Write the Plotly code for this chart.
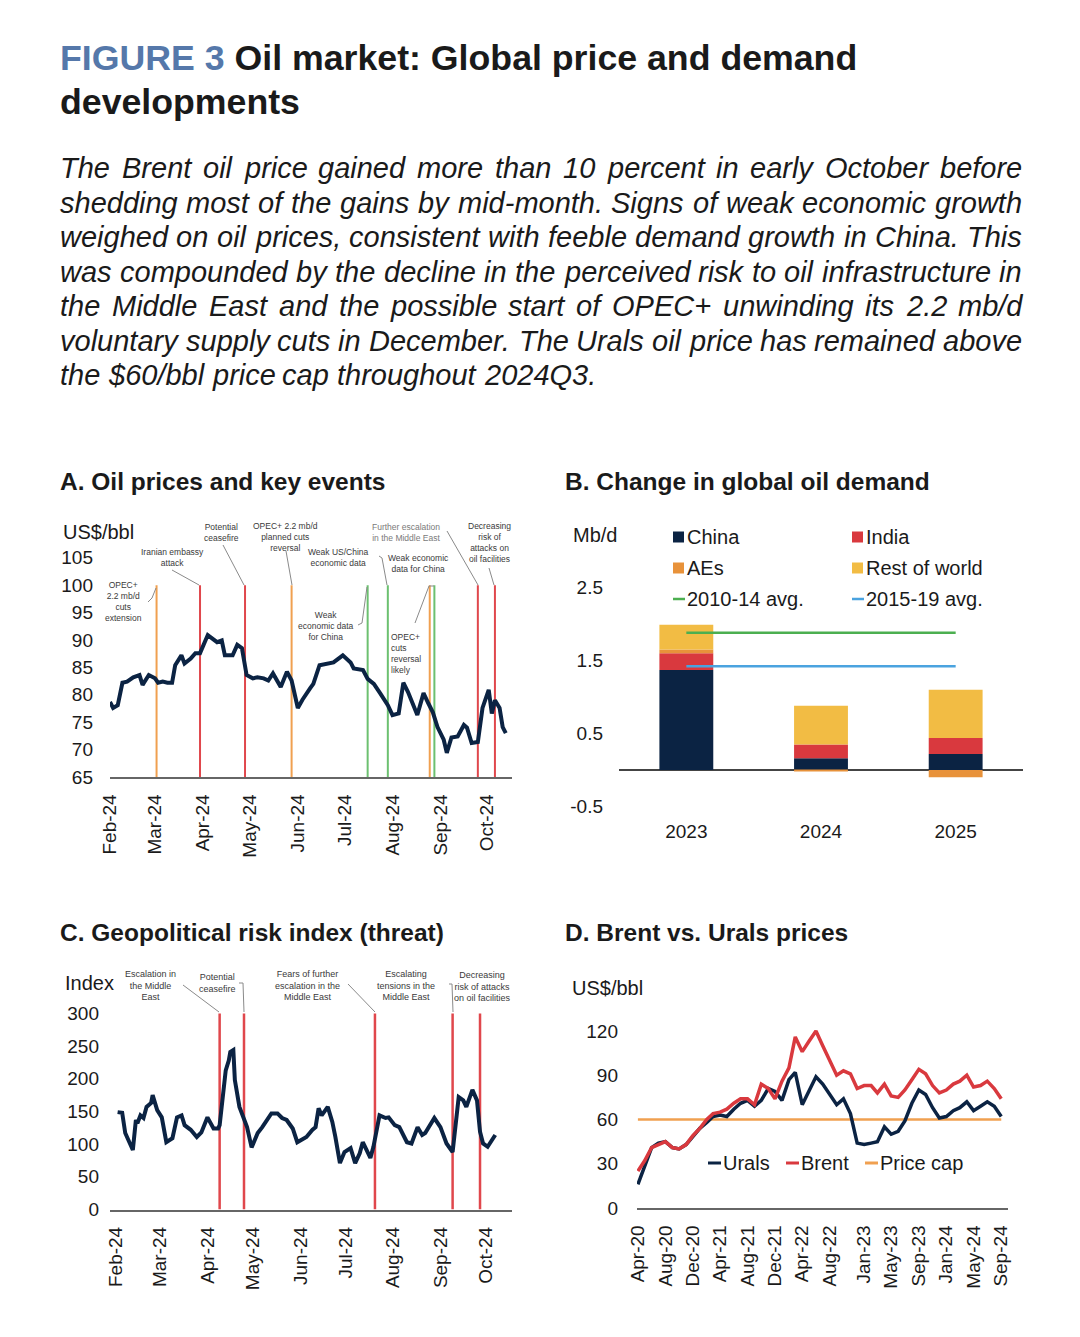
import plotly.graph_objects as go

# page body has an 8px margin: the figure is sized to fit the window and every
# reference pixel position is converted by removing that offset
OFF = 8
W, H = 1080 - 2 * OFF, 1337 - 2 * OFF
def px(x): return (x - OFF) / W
def py(y): return 1 - (y - OFF) / H

FONT = "Liberation Sans, Arial, Helvetica, sans-serif"
NAVY = "#0B2343"
RED = "#D9393E"
ORANGE = "#F0A050"
AES_OR = "#E8923A"
YELLOW = "#F2BC44"
GREEN = "#4CAF50"
EV_GREEN = "#6CC070"
BLUE = "#4AA3DF"
AXIS = "#666666"
TXT = "#1a1a1a"
LEAD = "#8a8a8a"

# ---------------- DATA ----------------
# Panel A: Brent daily (US$/bbl)
a_dates = ["2024-02-01","2024-02-03","2024-02-06","2024-02-09","2024-02-12","2024-02-16","2024-02-20","2024-02-22","2024-02-26",
           "2024-03-01","2024-03-03","2024-03-06","2024-03-09","2024-03-12","2024-03-14","2024-03-18","2024-03-20","2024-03-24","2024-03-27","2024-03-30",
           "2024-04-04","2024-04-07","2024-04-10","2024-04-13","2024-04-15","2024-04-20","2024-04-23","2024-04-26","2024-04-29",
           "2024-05-03","2024-05-06","2024-05-10","2024-05-13","2024-05-16","2024-05-21","2024-05-25","2024-05-28",
           "2024-06-01","2024-06-04","2024-06-09","2024-06-11","2024-06-15","2024-06-20","2024-06-24","2024-06-30",
           "2024-07-05","2024-07-07","2024-07-13","2024-07-16","2024-07-20","2024-07-24","2024-07-29",
           "2024-08-01","2024-08-05","2024-08-08","2024-08-11","2024-08-17","2024-08-21","2024-08-24","2024-08-27","2024-08-30",
           "2024-09-03","2024-09-05","2024-09-08","2024-09-12","2024-09-16","2024-09-18","2024-09-21","2024-09-25","2024-09-28",
           "2024-10-02","2024-10-04","2024-10-06","2024-10-09","2024-10-11","2024-10-13"]
a_brent = [78.7,77.6,78.1,82.2,82.4,83.2,83.6,81.8,83.6,
           83.0,82.2,82.4,82.2,82.2,85.4,87.2,85.7,86.6,87.6,87.6,
           90.9,90.3,89.6,89.9,87.2,87.2,89.1,88.5,83.6,
           83.0,83.2,83.0,82.6,83.9,81.4,84.2,82.6,
           77.6,79.1,81.2,82.0,85.4,85.7,85.9,87.2,
           85.9,84.8,84.5,82.9,82.0,80.3,78.1,
           76.3,76.6,82.2,80.5,76.3,80.3,78.5,76.8,74.1,
           71.8,69.4,72.2,72.4,74.5,74.0,71.2,71.4,77.6,
           80.9,76.6,79.0,77.6,74.1,73.0]
a_month_ticks = ["2024-02-01","2024-03-01","2024-04-01","2024-05-01","2024-06-01","2024-07-01","2024-08-01","2024-09-01","2024-10-01"]
a_month_labels = ["Feb-24","Mar-24","Apr-24","May-24","Jun-24","Jul-24","Aug-24","Sep-24","Oct-24"]
a_event_dates = ["2024-03-02","2024-03-30","2024-04-28","2024-05-28","2024-07-16","2024-07-29","2024-08-25","2024-08-28","2024-09-25","2024-10-06"]
a_event_types = ["opec","conflict","conflict","opec","demand","demand","opec","demand","conflict","conflict"]
a_yticks = [65,70,75,80,85,90,95,100,105]

# Panel B: change in global oil demand (mb/d)
b_years = ["2023","2024","2025"]
b_china = [1.37, 0.16, 0.22]
b_india = [0.23, 0.19, 0.22]
b_aes = [0.05, -0.02, -0.10]
b_row = [0.34, 0.53, 0.66]
b_avg_1014 = 1.88
b_avg_1519 = 1.42
b_yticks = [-0.5, 0.5, 1.5, 2.5]

# Panel C: geopolitical risk index (threat)
c_dates = ["2024-02-02","2024-02-05","2024-02-07","2024-02-09","2024-02-12","2024-02-14","2024-02-15","2024-02-17","2024-02-19","2024-02-21",
           "2024-02-24","2024-02-25","2024-02-28","2024-03-02","2024-03-05","2024-03-09","2024-03-12","2024-03-15","2024-03-17","2024-03-21",
           "2024-03-25","2024-03-28","2024-04-01","2024-04-05","2024-04-08","2024-04-09","2024-04-13","2024-04-15","2024-04-16","2024-04-18",
           "2024-04-19","2024-04-22","2024-04-24","2024-04-27","2024-04-30","2024-05-04","2024-05-07","2024-05-10","2024-05-13","2024-05-17",
           "2024-05-20","2024-05-23","2024-05-27","2024-05-30","2024-06-05","2024-06-09","2024-06-11","2024-06-13","2024-06-15","2024-06-19",
           "2024-06-22","2024-06-24","2024-06-27","2024-06-30","2024-07-04","2024-07-07","2024-07-10","2024-07-12","2024-07-17","2024-07-19",
           "2024-07-23","2024-07-27","2024-07-29","2024-08-02","2024-08-05","2024-08-10","2024-08-13","2024-08-17","2024-08-20","2024-08-22",
           "2024-08-26","2024-08-28","2024-09-01","2024-09-05","2024-09-09","2024-09-13","2024-09-16","2024-09-18","2024-09-22","2024-09-25",
           "2024-09-27","2024-09-29","2024-10-02","2024-10-05","2024-10-07"]
c_gpr = [149,148,117,106,91,137,132,144,140,157,
         163,175,152,141,103,109,141,144,129,122,
         111,118,141,124,124,129,213,228,241,244,
         198,157,144,126,95,117,126,137,147,147,
         140,137,124,103,111,122,126,155,144,157,
         134,111,71,88,94,71,86,103,79,96,
         144,140,141,129,126,103,101,126,114,117,
         132,140,126,101,88,172,167,157,183,167,
         119,101,96,106,114]
c_event_dates = ["2024-04-09","2024-04-25","2024-07-20","2024-09-09","2024-09-27"]
c_yticks = [0,50,100,150,200,250,300]

# Panel D: Brent vs Urals monthly (US$/bbl)
d_months = ["2020-04","2020-05","2020-06","2020-07","2020-08","2020-09","2020-10","2020-11","2020-12",
            "2021-01","2021-02","2021-03","2021-04","2021-05","2021-06","2021-07","2021-08","2021-09","2021-10","2021-11","2021-12",
            "2022-01","2022-02","2022-03","2022-04","2022-05","2022-06","2022-07","2022-08","2022-09","2022-10","2022-11","2022-12",
            "2023-01","2023-02","2023-03","2023-04","2023-05","2023-06","2023-07","2023-08","2023-09","2023-10","2023-11","2023-12",
            "2024-01","2024-02","2024-03","2024-04","2024-05","2024-06","2024-07","2024-08","2024-09"]
d_urals = [16,28,41,44,45,41,40,43,48,
           54,58,62,63,62,67,71,73,69,73,81,79,
           73,87,92,70,79,89,84,77,70,74,64,44,
           43,44,45,55,50,52,59,71,80,77,68,61,
           62,66,68,72,66,69,72,69,62]
d_brent = [25,32,41,43,45,41,40,43,49,
           54,60,64,65,67,71,74,74,70,84,81,74,
           86,95,116,106,113,120,110,100,90,93,91,81,
           83,83,78,84,76,75,80,87,94,91,83,78,
           80,84,86,90,82,83,86,81,74]
d_price_cap = 60
d_tick_months = ["2020-04-01","2020-08-01","2020-12-01","2021-04-01","2021-08-01","2021-12-01","2022-04-01","2022-08-01",
                 "2023-01-01","2023-05-01","2023-09-01","2024-01-01","2024-05-01","2024-09-01"]
d_tick_labels = ["Apr-20","Aug-20","Dec-20","Apr-21","Aug-21","Dec-21","Apr-22","Aug-22",
                 "Jan-23","May-23","Sep-23","Jan-24","May-24","Sep-24"]
d_yticks = [0,30,60,90,120]

EVENT_COLORS = {"opec": ORANGE, "conflict": "#E0474C", "demand": EV_GREEN}

# ---------------- FIGURE ----------------
fig = go.Figure()

# A
fig.add_trace(go.Scatter(x=a_dates, y=a_brent, mode="lines", line=dict(color=NAVY, width=4),
                         xaxis="x", yaxis="y", hoverinfo="skip"))
# B
for name, vals, col in [("China", b_china, NAVY), ("India", b_india, RED), ("AEs", b_aes, AES_OR), ("Rest of world", b_row, YELLOW)]:
    fig.add_trace(go.Bar(x=b_years, y=vals, name=name, marker=dict(color=col, line=dict(width=0)),
                         width=0.4, xaxis="x2", yaxis="y2"))
fig.add_trace(go.Scatter(x=[b_years[0], b_years[-1]], y=[b_avg_1014, b_avg_1014], mode="lines",
                         line=dict(color=GREEN, width=2.5), xaxis="x2", yaxis="y2"))
fig.add_trace(go.Scatter(x=[b_years[0], b_years[-1]], y=[b_avg_1519, b_avg_1519], mode="lines",
                         line=dict(color=BLUE, width=2.5), xaxis="x2", yaxis="y2"))
# C
fig.add_trace(go.Scatter(x=c_dates, y=c_gpr, mode="lines", line=dict(color=NAVY, width=4),
                         xaxis="x3", yaxis="y3"))
# D
fig.add_trace(go.Scatter(x=d_months, y=[d_price_cap] * len(d_months), mode="lines",
                         line=dict(color=ORANGE, width=2.5), xaxis="x4", yaxis="y4"))
fig.add_trace(go.Scatter(x=d_months, y=d_urals, mode="lines", line=dict(color=NAVY, width=3.5),
                         xaxis="x4", yaxis="y4"))
fig.add_trace(go.Scatter(x=d_months, y=d_brent, mode="lines", line=dict(color=RED, width=3.5),
                         xaxis="x4", yaxis="y4"))

shapes = []
for d, t in zip(a_event_dates, a_event_types):
    shapes.append(dict(type="line", xref="x", yref="y", x0=d, x1=d, y0=65, y1=100,
                       line=dict(color=EVENT_COLORS[t], width=2), layer="below"))
for d in c_event_dates:
    shapes.append(dict(type="line", xref="x3", yref="y3", x0=d, x1=d, y0=0, y1=300,
                       line=dict(color="#E0474C", width=2.5), layer="below"))

def leader(points, color=LEAD):
    path = "M " + " L ".join(f"{px(x)},{py(y)}" for x, y in points)
    shapes.append(dict(type="path", xref="paper", yref="paper", path=path,
                       line=dict(color=color, width=1)))

ann = []
def txt(text, x, y, size, xanchor="left", color=TXT, align=None, yanchor="middle"):
    d = dict(text=text, x=px(x), y=py(y), xref="paper", yref="paper", xanchor=xanchor, yanchor=yanchor,
             showarrow=False, font=dict(family=FONT, size=size, color=color), borderpad=0)
    if align:
        d["align"] = align
    ann.append(d)

# Title
txt("<b><span style='color:#5578AA'>FIGURE 3</span> Oil market: Global price and demand</b>", 59, 58, 35.7)
txt("<b>developments</b>", 59, 102, 35.7)

# Justified paragraph
CW = {' ':278,'$':556,'+':584,',':278,'-':333,'.':278,'/':278,':':278,
      'A':667,'B':667,'C':722,'D':722,'E':667,'F':611,'G':778,'H':722,'I':278,'J':500,'K':667,'L':556,'M':833,
      'N':722,'O':778,'P':667,'Q':778,'R':722,'S':667,'T':611,'U':722,'V':667,'W':944,'X':667,'Y':667,'Z':611,
      'a':556,'b':556,'c':500,'d':556,'e':556,'f':278,'g':556,'h':556,'i':222,'j':222,'k':500,'l':222,'m':833,
      'n':556,'o':556,'p':556,'q':556,'r':333,'s':500,'t':278,'u':556,'v':500,'w':722,'x':500,'y':500,'z':500}
def tw(s, fs):
    return sum(CW.get(c, 556) for c in s) * fs / 1000.0

para = ["The Brent oil price gained more than 10 percent in early October before",
        "shedding most of the gains by mid-month. Signs of weak economic growth",
        "weighed on oil prices, consistent with feeble demand growth in China. This",
        "was compounded by the decline in the perceived risk to oil infrastructure in",
        "the Middle East and the possible start of OPEC+ unwinding its 2.2 mb/d",
        "voluntary supply cuts in December. The Urals oil price has remained above",
        "the $60/bbl price cap throughout 2024Q3."]
FSP = 29
for i, line in enumerate(para):
    yy = 168 + i * 34.5
    words = line.split(" ")
    if i < len(para) - 1:
        nat = sum(tw(w, FSP) for w in words)
        gap = (962 - nat) / (len(words) - 1)
    else:
        gap = tw(" ", FSP)
    xx = 59
    for w in words:
        txt(f"<i>{w}</i>", xx, yy, FSP)
        xx += tw(w, FSP) + gap

# Panel titles
txt("<b>A. Oil prices and key events</b>", 59, 481, 24.5)
txt("<b>B. Change in global oil demand</b>", 564, 481, 24.5)
txt("<b>C. Geopolitical risk index (threat)</b>", 59, 932, 24.5)
txt("<b>D. Brent vs. Urals prices</b>", 564, 932, 24.5)

# Axis unit labels
txt("US$/bbl", 62, 532, 20)
txt("Mb/d", 572, 535, 20)
txt("Index", 64, 983, 20)
txt("US$/bbl", 571, 988, 20)

# Panel A event annotations
SM = 8.5
ACOL = "#3a3a3a"
txt("OPEC+<br>2.2 mb/d<br>cuts<br>extension", 123, 601, SM, "center", ACOL, "center")
leader([(148, 602), (152, 598), (156, 588)])
txt("Iranian embassy<br>attack", 172, 558, SM, "center", ACOL, "center")
leader([(172, 570), (199, 585)])
txt("Potential<br>ceasefire", 221, 532, SM, "center", ACOL, "center")
leader([(223, 545), (244, 585)])
txt("OPEC+ 2.2 mb/d<br>planned cuts<br>reversal", 285, 537, SM, "center", ACOL, "center")
leader([(286, 551), (292, 585)])
txt("Weak US/China<br>economic data", 338, 557, SM, "center", ACOL, "center")
leader([(379, 556), (382, 558), (387, 585)])
txt("Weak<br>economic data<br>for China", 326, 626, SM, "center", ACOL, "center")
leader([(358, 625), (362, 623), (367, 587)])
txt("Further escalation<br>in the Middle East", 406, 532, SM, "center", "#7a7a7a", "center")
leader([(447, 531), (478, 585)])
txt("Weak economic<br>data for China", 418, 563, SM, "center", ACOL, "center")
leader([(415, 623), (429, 586), (434, 586)])
txt("OPEC+<br>cuts<br>reversal<br>likely", 390, 653, SM, "left", ACOL, "left")
txt("Decreasing<br>risk of<br>attacks on<br>oil facilities", 489, 542, SM, "center", ACOL, "center")
leader([(489, 568), (494, 585)])

# Panel C event annotations
SC = 9
txt("Escalation in<br>the Middle<br>East", 150, 985, SC, "center", ACOL, "center")
leader([(183, 985), (219, 1012)])
txt("Potential<br>ceasefire", 217, 983, SC, "center", ACOL, "center")
leader([(239, 983), (243, 983), (244, 1012)])
txt("Fears of further<br>escalation in the<br>Middle East", 307, 985, SC, "center", ACOL, "center")
leader([(348, 984), (375, 1012)])
txt("Escalating<br>tensions in the<br>Middle East", 406, 985, SC, "center", ACOL, "center")
leader([(449, 984), (452, 984), (453, 1012)])
txt("Decreasing<br>risk of attacks<br>on oil facilities", 482, 986, SC, "center", ACOL, "center")

# Panel B legend
LF = 20
def sq(x, y, col):
    shapes.append(dict(type="rect", xref="paper", yref="paper", x0=px(x), x1=px(x + 11),
                       y0=py(y + 5.5), y1=py(y - 5.5), fillcolor=col, line=dict(width=0)))
def dash(x, y, col, w=12, lw=2.5):
    shapes.append(dict(type="line", xref="paper", yref="paper", x0=px(x), x1=px(x + w),
                       y0=py(y), y1=py(y), line=dict(color=col, width=lw)))
sq(673, 537, NAVY); txt("China", 686, 537, LF)
sq(852, 537, RED); txt("India", 865, 537, LF)
sq(673, 568, AES_OR); txt("AEs", 686, 568, LF)
sq(852, 568, YELLOW); txt("Rest of world", 865, 568, LF)
dash(673, 599, GREEN); txt("2010-14 avg.", 686, 599, LF)
dash(852, 599, BLUE); txt("2015-19 avg.", 865, 599, LF)

# Panel D legend
dash(708, 1163, NAVY, 13, 3); txt("Urals", 722, 1163, LF)
dash(786, 1163, RED, 13, 3); txt("Brent", 800, 1163, LF)
dash(865, 1163, ORANGE, 13, 3); txt("Price cap", 879, 1163, LF)

TICKFONT = dict(family=FONT, size=19, color=TXT)
common = dict(showgrid=False, zeroline=False, ticks="", tickfont=TICKFONT, automargin=False)

fig.update_layout(
    width=W, height=H, autosize=False,
    margin=dict(l=0, r=0, t=0, b=0, pad=0, autoexpand=False),
    paper_bgcolor="white", plot_bgcolor="white",
    showlegend=False, barmode="relative",
    font=dict(family=FONT, color=TXT),
    xaxis=dict(domain=[px(110), px(512)], anchor="y", type="date",
               range=["2024-02-01", "2024-10-17"], tickvals=a_month_ticks, ticktext=a_month_labels,
               tickangle=-90, showline=True, linecolor=AXIS, linewidth=1.5, ticklabelstandoff=8, **common),
    yaxis=dict(domain=[py(777), py(546.8)], anchor="x", range=[65, 107], tickvals=a_yticks,
               showline=False, ticklabelstandoff=16, **common),
    xaxis2=dict(domain=[px(619), px(1023)], anchor="y2", type="category", showline=False,
                ticklabelstandoff=4, **common),
    yaxis2=dict(domain=[py(813.8), py(565.6)], anchor="x2", range=[-0.6, 2.8], tickvals=b_yticks,
                ticktext=[str(v) for v in b_yticks], showline=False, ticklabelstandoff=15,
                showgrid=False, ticks="", tickfont=TICKFONT, automargin=False,
                zeroline=True, zerolinecolor="#444444", zerolinewidth=1.5),
    xaxis3=dict(domain=[px(110), px(512)], anchor="y3", type="date",
                range=["2024-01-28", "2024-10-18"], tickvals=a_month_ticks, ticktext=a_month_labels,
                tickangle=-90, showline=True, linecolor=AXIS, linewidth=1.5, ticklabelstandoff=8, **common),
    yaxis3=dict(domain=[py(1209.5), py(1010.2)], anchor="x3", range=[0, 305], tickvals=c_yticks,
                showline=False, ticklabelstandoff=10, **common),
    xaxis4=dict(domain=[px(637), px(1008)], anchor="y4", type="date",
                range=["2020-03-28", "2024-10-01"], tickvals=d_tick_months, ticktext=d_tick_labels,
                tickangle=-90, showline=True, linecolor=AXIS, linewidth=1.5, ticklabelstandoff=8, **common),
    yaxis4=dict(domain=[py(1208), py(1016.25)], anchor="x4", range=[0, 130], tickvals=d_yticks,
                showline=False, ticklabelstandoff=18, **common),
    shapes=shapes,
    annotations=ann,
)

fig.write_html("out.html")
